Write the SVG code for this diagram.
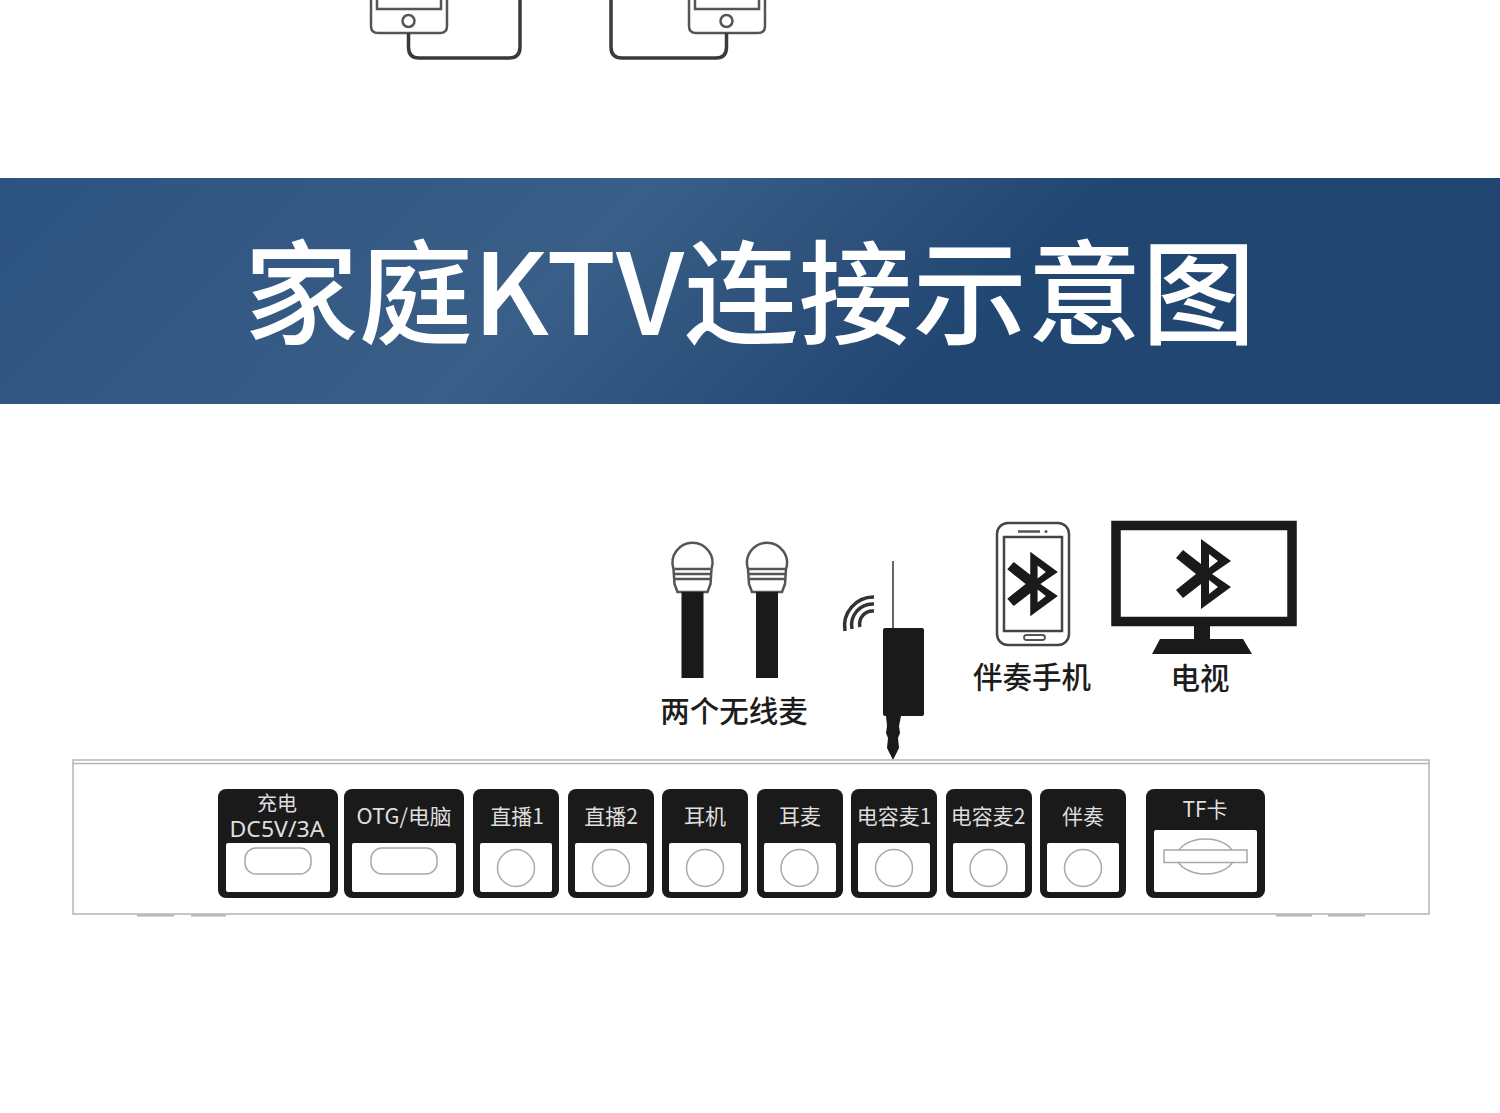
<svg xmlns="http://www.w3.org/2000/svg" width="1500" height="1113" viewBox="0 0 1500 1113">
<style>
text{font-family:"Noto Sans CJK SC","Noto Sans",sans-serif;text-anchor:middle}
.lbl{fill:#1c1c1c;font-size:29.500px;font-weight:500}
.pl{fill:#dedede;font-size:21px}
.lat{font-family:"Noto Sans",sans-serif}
.port{fill:#1a1a1a}
.win{fill:#fff}
.hole{fill:none;stroke:#a8a8a8;stroke-width:1.500}
.ln{fill:none;stroke:#555;stroke-width:2.500}
.cable{fill:none;stroke:#3a3a3a;stroke-width:3.500}
.edge{fill:none;stroke:#b5b5b5;stroke-width:1.500}
</style>
<defs>
<linearGradient id="bg" gradientUnits="userSpaceOnUse" x1="0" y1="0" x2="700" y2="700">
<stop offset="0.1" stop-color="#2c5280"/><stop offset="0.6" stop-color="#395e87"/><stop offset="0.93" stop-color="#224672"/><stop offset="1" stop-color="#224672"/>
</linearGradient>
<path id="bt" fill-rule="evenodd" fill="#1a1a1a" d="M-3 -35L27 -13L8 0L27 13L-3 35L-3 10L-21 24L-28 16L-8 0L-28 -16L-21 -24L-3 -10ZM5 -20V-6L14 -13ZM5 20V6L14 13Z"/>
<g id="mic"><path d="M-19 12A20 20 0 1 1 19 12L18 27L15 35H-15L-18 27Z" fill="#fff" stroke="#555" stroke-width="2.500"/>
<path d="M-18 12H18M-18 17H18M-18 22H18" class="ln" stroke-width="2"/><rect x="-11" y="35" width="22" height="86" fill="#1a1a1a"/></g>
<g id="jack"><rect x="-43" y="-33" width="86" height="109" rx="8" class="port"/><rect x="-36" y="21" width="72" height="49" rx="2" class="win"/></g>
</defs>
<g id="phones-top">
<path d="M371 0V26Q371 33 378 33H440Q447 33 447 26V0" class="ln"/><path d="M377 0V9H441V0" class="ln"/><circle cx="408.500" cy="21" r="6" class="ln"/>
<path d="M765 0V26Q765 33 758 33H696Q689 33 689 26V0" class="ln"/><path d="M759 0V9H695V0" class="ln"/><circle cx="726.500" cy="21" r="6" class="ln"/>
</g>
<rect id="banner" x="0" y="178" width="1500" height="226" fill="url(#bg)"/>
<text id="title" x="750" y="335" fill="#fff" font-size="113" font-weight="500" textLength="1012" lengthAdjust="spacingAndGlyphs">家庭KTV连接示意图</text>
<g id="connectors">
<path d="M408.500 33V47Q408.500 58 419 58H509Q520 58 520 47V0" class="cable"/>
<path d="M726.500 33V47Q726.500 58 716 58H622Q611 58 611 47V0" class="cable"/>
</g>
<g id="mic1"><use href="#mic" x="692.500" y="557"/></g>
<g id="mic2"><use href="#mic" x="767" y="557"/></g>
<text id="mic-label" class="lbl" x="734" y="722">两个无线麦</text>
<g id="receiver">
<path d="M893 561V630" stroke="#333" stroke-width="1.500"/>
<rect x="883" y="628" width="41" height="88" rx="2" fill="#1a1a1a"/>
<path d="M886 716H901L899 726L900 733L898 738L899 748L893 760L887 748L888 738L886 733L887 726Z" fill="#1a1a1a"/>
<g fill="none" stroke="#333" stroke-width="3.500"><path d="M874 597A29 29 0 0 0 845 631"/><path d="M874 604A21 21 0 0 0 852 629"/><path d="M874 611A13 13 0 0 0 860 627"/></g>
</g>
<g id="phone">
<rect x="997" y="523" width="72" height="122" rx="11" fill="#fff" stroke="#444" stroke-width="2.500"/>
<rect x="1004" y="537" width="58" height="94" fill="none" stroke="#444" stroke-width="2.500"/>
<path d="M1018 531.500H1040" stroke="#555" stroke-width="2.500"/><circle cx="1046" cy="531.500" r="1.500" fill="#555"/>
<rect x="1024" y="635" width="21" height="5" rx="2.500" fill="none" stroke="#555" stroke-width="1.800"/>
<use href="#bt" transform="translate(1033 584) scale(.92)"/>
</g>
<text id="phone-label" class="lbl" x="1032" y="688">伴奏手机</text>
<g id="tv">
<rect x="1116" y="525.500" width="176" height="96" fill="#fff" stroke="#1a1a1a" stroke-width="9.500"/>
<rect x="1194" y="622" width="16" height="18" fill="#1a1a1a"/>
<path d="M1160 639H1243L1252 654H1152Z" fill="#1a1a1a"/>
<use href="#bt" transform="translate(1204 574)"/>
</g>
<text id="tv-label" class="lbl" x="1200" y="689">电视</text>
<g id="device">
<rect x="73" y="760" width="1356" height="154" fill="#fff" stroke="#b5b5b5" stroke-width="1.500"/>
<path d="M73 763.500H1429" class="edge"/>
<path d="M137 915.500H174M191 915.500H226M1276 915.500H1312M1328 915.500H1365" stroke="#b5b5b5" stroke-width="2"/>
</g>
<g id="port-charge"><rect x="218" y="789" width="120" height="109" rx="8" class="port"/><rect x="226" y="843" width="104" height="49" rx="2" class="win"/><rect x="245" y="848" width="66" height="26" rx="11" class="hole"/><text class="pl" x="277" y="811" style="font-size:20px">充电</text><text class="pl lat" x="277" y="837" textLength="95" lengthAdjust="spacingAndGlyphs">DC5V/3A</text></g>
<g id="port-otg"><rect x="344" y="789" width="120" height="109" rx="8" class="port"/><rect x="352" y="843" width="104" height="49" rx="2" class="win"/><rect x="371" y="848" width="66" height="26" rx="11" class="hole"/><text class="pl" x="404" y="824" textLength="95" lengthAdjust="spacingAndGlyphs">OTG/电脑</text></g>
<g id="port-live1"><use href="#jack" x="516" y="822"/><circle cx="516" cy="868" r="18.500" class="hole"/><text class="pl" x="517" y="824">直播1</text></g>
<g id="port-live2"><use href="#jack" x="611" y="822"/><circle cx="611" cy="868" r="18.500" class="hole"/><text class="pl" x="611" y="824">直播2</text></g>
<g id="port-phones"><use href="#jack" x="705" y="822"/><circle cx="705" cy="868" r="18.500" class="hole"/><text class="pl" x="705" y="824">耳机</text></g>
<g id="port-headset"><use href="#jack" x="800" y="822"/><circle cx="799.500" cy="868" r="18.500" class="hole"/><text class="pl" x="800" y="824">耳麦</text></g>
<g id="port-cond1"><use href="#jack" x="894" y="822"/><circle cx="894" cy="868" r="18.500" class="hole"/><text class="pl" x="894" y="824">电容麦1</text></g>
<g id="port-cond2"><use href="#jack" x="989" y="822"/><circle cx="988.500" cy="868" r="18.500" class="hole"/><text class="pl" x="988" y="824">电容麦2</text></g>
<g id="port-acc"><use href="#jack" x="1083" y="822"/><circle cx="1083" cy="868" r="18.500" class="hole"/><text class="pl" x="1083" y="824">伴奏</text></g>
<g id="port-tf"><rect x="1146" y="789" width="119" height="109" rx="8" class="port"/><rect x="1154" y="830" width="103" height="62" rx="2" class="win"/><ellipse cx="1205.500" cy="856.500" rx="28.500" ry="17.500" class="hole"/><rect x="1164" y="850" width="83" height="12.500" fill="#fff" stroke="#a8a8a8" stroke-width="1.500"/><text class="pl" x="1205" y="817">TF卡</text></g>
</svg>
